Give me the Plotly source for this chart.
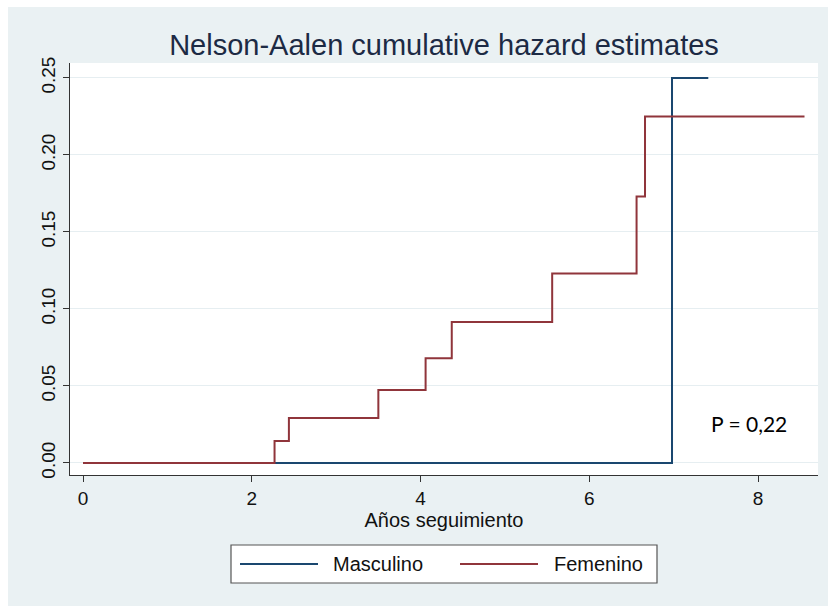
import plotly.graph_objects as go

# Nelson-Aalen cumulative hazard by sex (step functions)
masc_t = [0.0, 6.98, 7.41]
masc_h = [0.0, 0.250, 0.250]

fem_t = [0.0, 2.27, 2.44, 3.50, 4.06, 4.37, 5.56, 6.56, 6.66, 8.55]
fem_h = [0.0, 0.0143, 0.0292, 0.0474, 0.0680, 0.0915, 0.1230, 0.1730, 0.2250, 0.2250]

x_ticks = [0, 2, 4, 6, 8]
y_ticks = [0.0, 0.05, 0.10, 0.15, 0.20, 0.25]
y_tick_text = ["0.00", "0.05", "0.10", "0.15", "0.20", "0.25"]

series_names = ["Masculino", "Femenino"]
NAVY = "#1a476f"
MAROON = "#90353b"
PANEL = "#eaf1f3"
FONT = "Liberation Sans, Arial, sans-serif"

W, H = 828, 606
L, R, T, B = 70, 10, 63, 131
PW, PH = W - L - R, H - T - B


def px(xp):
    return (xp - L) / PW


def py(yp):
    return (H - B - yp) / PH


fig = go.Figure()
fig.add_trace(go.Scatter(x=masc_t, y=masc_h, mode="lines", name=series_names[0],
                         line=dict(color=NAVY, width=2, shape="hv"), showlegend=False))
fig.add_trace(go.Scatter(x=fem_t, y=fem_h, mode="lines", name=series_names[1],
                         line=dict(color=MAROON, width=2, shape="hv"), showlegend=False))

shapes = [
    # graph region background
    dict(type="rect", xref="paper", yref="paper", x0=px(8), x1=px(W + 2), y0=py(H + 2), y1=py(7),
         fillcolor=PANEL, line=dict(width=0), layer="below"),
    # plot region
    dict(type="rect", xref="paper", yref="paper", x0=0, x1=1, y0=0, y1=1,
         fillcolor="white", line=dict(width=0), layer="below"),
    # legend box
    dict(type="rect", xref="paper", yref="paper", x0=px(231), x1=px(657), y0=py(583), y1=py(545),
         fillcolor="white", line=dict(color="#555555", width=1.2)),
    dict(type="line", xref="paper", yref="paper", x0=px(240), x1=px(318), y0=py(564), y1=py(564),
         line=dict(color=NAVY, width=2)),
    dict(type="line", xref="paper", yref="paper", x0=px(460), x1=px(538), y0=py(564), y1=py(564),
         line=dict(color=MAROON, width=2)),
]

annotations = [
    dict(text=series_names[0], xref="paper", yref="paper", x=px(331), y=py(564),
         xanchor="left", yanchor="middle", showarrow=False,
         font=dict(family=FONT, size=20, color="#111111")),
    dict(text=series_names[1], xref="paper", yref="paper", x=px(552), y=py(564),
         xanchor="left", yanchor="middle", showarrow=False,
         font=dict(family=FONT, size=20, color="#111111")),
    dict(text="P = 0,22", xref="paper", yref="paper", x=px(749), y=py(423),
         xanchor="center", yanchor="middle", showarrow=False,
         font=dict(family="Lato, Open Sans, sans-serif", size=21, color="#000000")),
]

fig.update_layout(
    width=W, height=H,
    margin=dict(l=L, r=R, t=T, b=B, pad=0),
    paper_bgcolor="white",
    plot_bgcolor="white",
    title=dict(text="Nelson-Aalen cumulative hazard estimates", xref="container", x=444 / W,
               xanchor="center", yref="container", y=1 - 45 / H, yanchor="middle",
               font=dict(family=FONT, size=29, color="#1c2a44")),
    shapes=shapes,
    annotations=annotations,
    showlegend=False,
)

fig.update_xaxes(
    range=[-0.154, 8.71], tickvals=x_ticks, ticks="outside", ticklen=6, tickcolor="#333333",
    showgrid=False, zeroline=False, showline=True, linecolor="#333333", linewidth=1,
    tickfont=dict(family=FONT, size=19, color="#111111"),
    title=dict(text="Años seguimiento", font=dict(family=FONT, size=20, color="#111111"), standoff=4),
)
fig.update_yaxes(
    range=[-0.0078, 0.2597], tickvals=y_ticks, ticktext=y_tick_text, tickangle=-90,
    ticks="outside", ticklen=6, tickcolor="#333333",
    showgrid=True, gridcolor="#e6eef1", gridwidth=1, zeroline=False,
    showline=True, linecolor="#333333", linewidth=1,
    tickfont=dict(family=FONT, size=19, color="#111111"),
)

fig.write_html("out.html")
